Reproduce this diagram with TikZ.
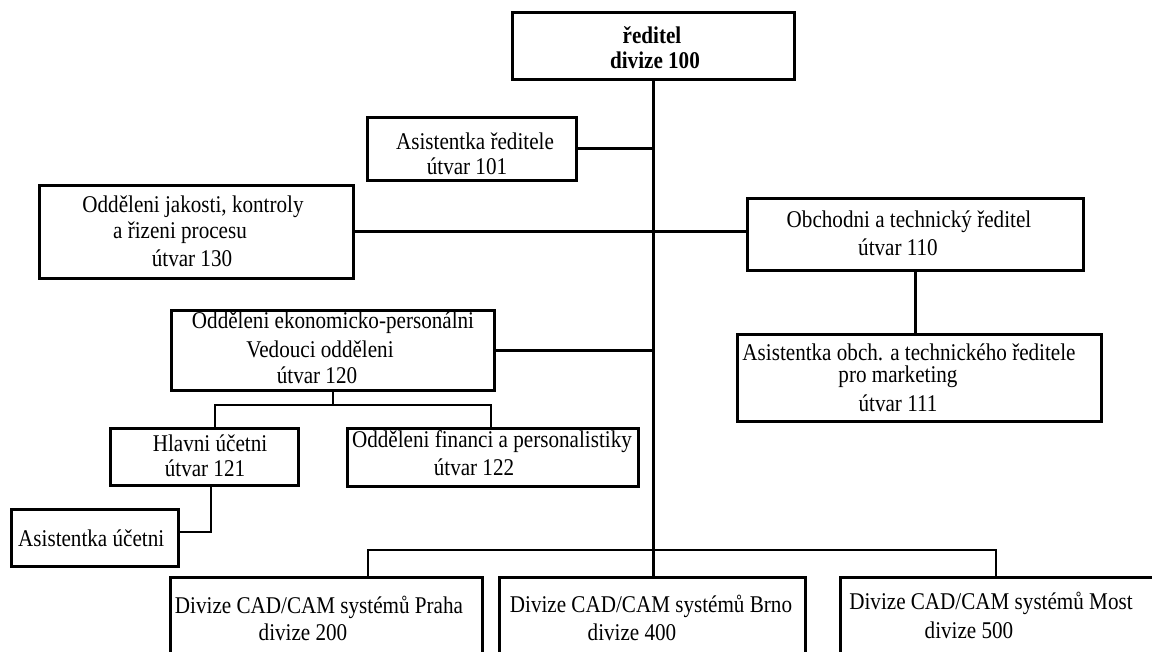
\documentclass[tikz,border=0pt]{standalone}
\usepackage{fontspec}
\setmainfont{Liberation Serif}[FakeStretch=0.88]
\begin{document}
\begin{tikzpicture}[x=1pt,y=-1pt,
  box/.style={draw,line width=2.6pt,inner sep=0pt,anchor=north west},
  lbl/.style={inner sep=0pt,font=\fontsize{24}{25}\selectfont},
  con/.style={line width=2.6pt,line join=miter}]
\useasboundingbox (0,0) rectangle (1152,652);
\clip (0,0) rectangle (1152,652);
\newcommand\mybox[5]{\node[box,minimum width=#4pt,minimum height=#5pt] (#1) at (#2,#3) {};}
% boxes
\mybox{top}{511}{11}{282}{67}
\mybox{a101}{366}{116}{209}{63}
\mybox{b130}{38}{184}{314}{93}
\mybox{b110}{746}{197}{336}{72}
\mybox{b111}{736}{333}{364}{87}
\mybox{b120}{170}{309}{323}{80}
\mybox{b121}{109}{427}{188}{57}
\mybox{b122}{346}{427}{291}{58}
\mybox{bAu}{10}{508}{167}{57}
\mybox{praha}{169}{576}{312}{110}
\mybox{brno}{498}{576}{306}{110}
\mybox{most}{839}{576}{340}{110}
% texts
\node[lbl] (t1) at (652,35) {\bfseries ředitel};
\node[lbl] (t2) at (655,60) {\bfseries divize 100};
\node[lbl] (t3) at (475,141) {Asistentka ředitele};
\node[lbl] (t4) at (467,166) {útvar 101};
\node[lbl] (t5) at (193,207) {Odděleni jakosti, kontroly};
\node[lbl] (t6) at (180,233) {a řizeni procesu};
\node[lbl] (t7) at (192,258) {útvar 130};
\node[lbl] (t8) at (909,222) {Obchodni a technický ředitel};
\node[lbl] (t9) at (898,247) {útvar 110};
\node[lbl] (t10) at (909,352) {Asistentka obch. a technického ředitele};
\node[lbl] (t11) at (898,377) {pro marketing};
\node[lbl] (t12) at (898,403) {útvar 111};
\node[lbl] (t13) at (333,323) {Odděleni ekonomicko-personálni};
\node[lbl] (t14) at (320,349) {Vedouci odděleni};
\node[lbl] (t15) at (317,375) {útvar 120};
\node[lbl] (t16) at (210,443) {Hlavni účetni};
\node[lbl] (t17) at (205,468) {útvar 121};
\node[lbl] (t18) at (492,442) {Odděleni financi a personalistiky};
\node[lbl] (t19) at (474,467) {útvar 122};
\node[lbl,anchor=west] (t20) at (18,538) {Asistentka účetni};
\node[lbl] (t21) at (319,607) {Divize CAD/CAM systémů Praha};
\node[lbl] (t22) at (303,632) {divize 200};
\node[lbl] (t23) at (651,606) {Divize CAD/CAM systémů Brno};
\node[lbl] (t24) at (632,632) {divize 400};
\node[lbl] (t25) at (991,603) {Divize CAD/CAM systémů Most};
\node[lbl] (t26) at (969,630) {divize 500};
% connectors
\draw[con] (top.south) -- (top.south |- brno.north);
\coordinate (barL) at (368,550);
\coordinate (barR) at (996,550);
\draw[con] (praha.north -| barL) -- (barL) -- (barR) -- (barR |- most.north);
\draw[con] (a101.east) -- (a101.east -| top.south);
\draw[con] (b130.east) -- (b130.east -| b110.west);
\draw[con] (b110.south) -- (b110.south |- b111.north);
\draw[con] (b120.east) -- (b120.east -| top.south);
\coordinate (eb) at (332,405);
\coordinate (ebL) at (215,405);
\coordinate (ebR) at (491,405);
\draw[con] (b120.south) -- (b120.south |- eb);
\draw[con] (ebL |- b121.north) -- (ebL) -- (ebR) -- (ebR |- b122.north);
\coordinate (ac) at (211,532);
\draw[con] (b121.south -| ac) -- (ac) -- (ac -| bAu.east);
\end{tikzpicture}
\end{document}
